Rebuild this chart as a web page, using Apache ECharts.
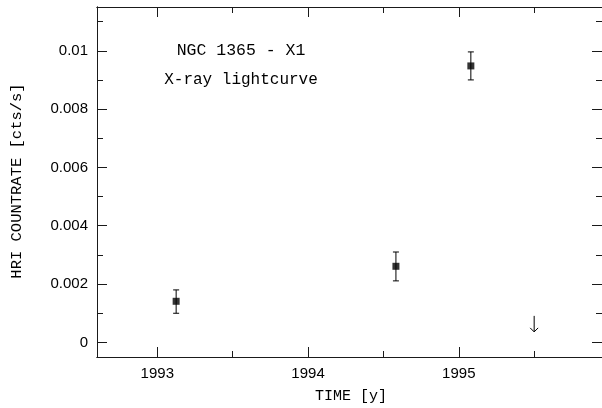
<!DOCTYPE html>
<html>
<head>
<meta charset="utf-8">
<script src="https://cdn.jsdelivr.net/npm/echarts@6/dist/echarts.min.js"></script>
<style>html,body{margin:0;padding:0;background:#fff}#c{width:602px;height:408px}</style>
</head>
<body>
<div id="c"></div>
<script>
// Detections: time [y], count rate, error low, error high
const times = [1993.125, 1994.583, 1995.08];
const rates = [0.00141, 0.00261, 0.00948];
const errLow = [0.00100, 0.00211, 0.00900];
const errHigh = [0.00180, 0.00310, 0.00996];
// Upper limit
const ulTimes = [1995.5];
const ulRates = [0.00091];
// Ticks
const xMajor = [1993, 1994, 1995];
const xMinor = [1993.5, 1994.5, 1995.5];
const yMajor = [0, 0.002, 0.004, 0.006, 0.008, 0.01];
const yMinor = [0.001, 0.003, 0.005, 0.007, 0.009, 0.011];
const xTickLabels = ['1993', '1994', '1995'];
const yTickLabels = ['0', '0.002', '0.004', '0.006', '0.008', '0.01'];
const annotations = ['NGC 1365 - X1', 'X-ray lightcurve'];
const xTitle = 'TIME [y]';
const yTitle = 'HRI COUNTRATE [cts/s]';

const chart = echarts.init(document.getElementById('c'), null, {renderer: 'canvas'});
const lineCol = '#1a1a1a';
const labelFont = {fontFamily: 'Liberation Sans', fontSize: 15, color: '#000'};

function makeAxis(kind, pos, ticks, len, labels) {
  const isX = kind === 'x';
  return {
    type: 'value', position: pos,
    min: isX ? 1992.6 : -0.0005, max: isX ? 1995.95 : 0.0115,
    axisLine: {show: true, onZero: false, lineStyle: {color: lineCol, width: 1}},
    axisTick: {show: true, inside: true, length: len, customValues: ticks, lineStyle: {color: lineCol}},
    splitLine: {show: false},
    axisLabel: labels ? {show: true, margin: 9, customValues: ticks, ...labelFont,
      formatter: v => { const i = ticks.findIndex(t => Math.abs(t - v) < 1e-9); return i >= 0 ? labels[i] : ''; }}
      : {show: false}
  };
}

chart.setOption({
  animation: false,
  grid: {left: 97, top: 7, width: 506, height: 350, containLabel: false},
  xAxis: [
    makeAxis('x', 'bottom', xMajor, 10, xTickLabels),
    makeAxis('x', 'bottom', xMinor, 6, null),
    makeAxis('x', 'top', xMajor, 10, null),
    makeAxis('x', 'top', xMinor, 6, null)
  ],
  yAxis: [
    makeAxis('y', 'left', yMajor, 10, yTickLabels),
    makeAxis('y', 'left', yMinor, 6, null),
    makeAxis('y', 'right', yMajor, 10, null),
    makeAxis('y', 'right', yMinor, 6, null)
  ],
  graphic: [
    {type: 'text', x: 351, y: 396, style: {text: xTitle, fontFamily: 'Liberation Mono', fontSize: 15, fill: '#000', textAlign: 'center', textVerticalAlign: 'middle'}},
    {type: 'text', rotation: Math.PI / 2, x: 17, y: 181, style: {text: yTitle, fontFamily: 'Liberation Mono', fontSize: 15.5, fill: '#000', textAlign: 'center', textVerticalAlign: 'middle'}},
    {type: 'text', x: 241, y: 51, style: {text: annotations[0], fontFamily: 'Liberation Mono', fontSize: 16.5, fill: '#000', textAlign: 'center', textVerticalAlign: 'middle'}},
    {type: 'text', x: 241, y: 80, style: {text: annotations[1], fontFamily: 'Liberation Mono', fontSize: 16, fill: '#000', textAlign: 'center', textVerticalAlign: 'middle'}}
  ],
  series: [
    {
      type: 'custom', xAxisIndex: 0, yAxisIndex: 0,
      data: times.map((t, i) => [t, errLow[i], errHigh[i]]),
      renderItem: (params, api) => {
        const lo = api.coord([api.value(0), api.value(1)]);
        const hi = api.coord([api.value(0), api.value(2)]);
        const w = 3;
        const st = {stroke: '#000', lineWidth: 1};
        return {type: 'group', children: [
          {type: 'line', shape: {x1: lo[0], y1: lo[1], x2: hi[0], y2: hi[1]}, style: st},
          {type: 'line', shape: {x1: lo[0] - w, y1: lo[1], x2: lo[0] + w, y2: lo[1]}, style: st},
          {type: 'line', shape: {x1: hi[0] - w, y1: hi[1], x2: hi[0] + w, y2: hi[1]}, style: st}
        ]};
      },
      z: 2
    },
    {
      type: 'scatter', xAxisIndex: 0, yAxisIndex: 0,
      data: times.map((t, i) => [t, rates[i]]),
      symbol: 'rect', symbolSize: 7, itemStyle: {color: '#000'}, z: 3
    },
    {
      type: 'custom', xAxisIndex: 0, yAxisIndex: 0,
      data: ulTimes.map((t, i) => [t, ulRates[i]]),
      renderItem: (params, api) => {
        const p = api.coord([api.value(0), api.value(1)]);
        const len = 16, h = 4;
        const st = {stroke: '#000', lineWidth: 1, fill: null};
        return {type: 'group', children: [
          {type: 'line', shape: {x1: p[0], y1: p[1], x2: p[0], y2: p[1] + len}, style: st},
          {type: 'polyline', shape: {points: [[p[0] - h, p[1] + len - h], [p[0], p[1] + len], [p[0] + h, p[1] + len - h]]}, style: st}
        ]};
      },
      z: 3
    }
  ]
});
</script>
</body>
</html>
